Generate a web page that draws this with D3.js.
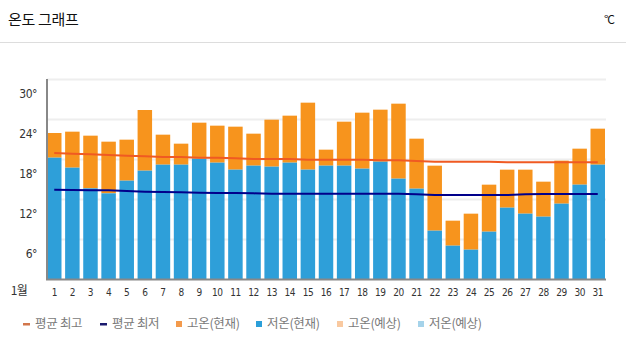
<!DOCTYPE html>
<html><head><meta charset="utf-8">
<script src="https://cdn.jsdelivr.net/npm/d3@7"></script>
<style>
body{margin:0;background:#fff;}
svg{display:block;}
text{font-family:"Noto Sans CJK KR","Noto Sans",sans-serif;}
</style></head>
<body><svg id="c" width="626" height="351"></svg>
<script>
const days = d3.range(1, 32).map(String);
const highNow = [21.9,22.1,21.5,20.6,20.9,25.35,21.65,20.3,23.45,23.0,22.85,21.8,23.9,24.5,26.45,19.4,23.6,24.95,25.4,26.3,21.05,17.0,8.75,9.8,14.15,16.4,16.4,14.6,17.75,19.55,22.55];
const lowNow = [18.2,16.7,13.6,12.85,14.75,16.25,17.15,17.15,18.05,17.45,16.4,17.0,16.85,17.45,16.4,17.0,17.0,16.55,17.6,15.05,13.55,7.25,5.0,4.4,7.1,10.7,9.8,9.35,11.3,14.15,17.15];
const avgHigh = [18.9,18.8,18.7,18.6,18.5,18.4,18.3,18.3,18.2,18.2,18.1,18.0,18.0,18.0,17.9,17.9,17.9,17.9,17.8,17.8,17.7,17.6,17.6,17.6,17.6,17.5,17.5,17.5,17.5,17.5,17.5];
const avgLow = [13.4,13.35,13.3,13.3,13.2,13.1,13.05,13.0,12.95,12.9,12.9,12.85,12.8,12.8,12.8,12.8,12.8,12.8,12.8,12.8,12.7,12.6,12.6,12.6,12.6,12.6,12.7,12.75,12.75,12.75,12.75];
const yTicks = [6, 12, 18, 24, 30];
const legendLabels = ["평균 최고","평균 최저","고온(현재)","저온(현재)","고온(예상)","저온(예상)"];
const colors = {high:"#F7941D", low:"#2E9FD9", avgHigh:"#F05A22", avgLow:"#00008B"};

const svg = d3.select("#c");
const x = d3.scaleBand().domain(days).range([47, 605]).paddingInner(0.2).paddingOuter(0).align(0);
const y = d3.scaleLinear().domain([0, 30]).range([279, 79]);

// title
svg.append("text").attr("x", 8).attr("y", 25).attr("font-size", 15).attr("fill", "#111").attr("letter-spacing", "-0.3").text("온도 그래프");
svg.append("text").attr("x", 614).attr("y", 24).attr("text-anchor", "end").attr("font-size", 12).attr("fill", "#111").attr("letter-spacing", "-1").text("°C");
svg.append("line").attr("x1", 0).attr("x2", 626).attr("y1", 42.5).attr("y2", 42.5).attr("stroke", "#ddd");

// gridlines
svg.append("g").selectAll("line").data(yTicks).join("line")
  .attr("x1", 47).attr("x2", 606).attr("y1", d => Math.round(y(d)) + 0.5).attr("y2", d => Math.round(y(d)) + 0.5)
  .attr("stroke", "#eeeeee").attr("stroke-width", 2);

// y labels
svg.append("g").selectAll("text").data(yTicks).join("text")
  .attr("x", 37).attr("y", d => y(d) + 15).attr("dy", "0.35em").attr("text-anchor", "end")
  .attr("font-size", 12).attr("fill", "#333").style("font-family", "'DejaVu Sans Condensed','DejaVu Sans',sans-serif")
  .attr("letter-spacing", "-0.5").text(d => d + "°");

// bars
const bars = svg.append("g");
bars.selectAll("rect.h").data(days).join("rect").attr("class", "h")
  .attr("x", d => x(d)).attr("width", x.bandwidth())
  .attr("y", (d, i) => y(highNow[i])).attr("height", (d, i) => y(lowNow[i]) - y(highNow[i]))
  .attr("fill", colors.high);
bars.selectAll("rect.l").data(days).join("rect").attr("class", "l")
  .attr("x", d => x(d)).attr("width", x.bandwidth())
  .attr("y", (d, i) => y(lowNow[i])).attr("height", (d, i) => y(0) - y(lowNow[i]))
  .attr("fill", colors.low);

// lines
const line = arr => d3.line().x((d, i) => x(days[i]) + x.bandwidth() / 2).y(d => y(d))(arr);
svg.append("path").attr("d", line(avgHigh)).attr("fill", "none").attr("stroke", colors.avgHigh).attr("stroke-width", 2);
svg.append("path").attr("d", line(avgLow)).attr("fill", "none").attr("stroke", colors.avgLow).attr("stroke-width", 2);

// axes lines
svg.append("line").attr("x1", 47).attr("x2", 47).attr("y1", 79).attr("y2", 280).attr("stroke", "#888").attr("stroke-width", 2);
svg.append("line").attr("x1", 46).attr("x2", 606).attr("y1", 279.5).attr("y2", 279.5).attr("stroke", "#888").attr("stroke-width", 2);

// x labels
svg.append("g").selectAll("text").data(days).join("text")
  .attr("x", d => x(d) + x.bandwidth() / 2).attr("y", 292).attr("dy", "0.35em").attr("text-anchor", "middle")
  .attr("font-size", 10).attr("fill", "#333").style("font-family", "'DejaVu Sans Condensed','DejaVu Sans',sans-serif")
  .attr("letter-spacing", "-0.5").text(d => d);
svg.append("text").attr("x", 19).attr("y", 291).attr("dy", "0.35em").attr("text-anchor", "middle")
  .attr("font-size", 12).attr("fill", "#333").attr("letter-spacing", "-0.5").text("1월");

// legend
const legX = [23, 100, 176, 256, 337, 418];
const legColors = ["#D2764B", "#1A1A6E", "#F39A4C", "#2B9FD9", "#F9C9A0", "#A5D3EA"];
const leg = svg.append("g").selectAll("g").data(legendLabels).join("g")
  .attr("transform", (d, i) => `translate(${legX[i]},324)`);
leg.each(function(d, i) {
  const g = d3.select(this);
  if (i < 2) g.append("rect").attr("x", 0).attr("y", -1).attr("width", 7).attr("height", 2.5).attr("fill", legColors[i]);
  else g.append("rect").attr("x", 0).attr("y", -3).attr("width", 6).attr("height", 6).attr("fill", legColors[i]);
  g.append("text").attr("x", i < 2 ? 12 : 11).attr("y", 0).attr("dy", "0.35em")
    .attr("font-size", 12.5).attr("fill", "#7a7a7a").attr("letter-spacing", "-0.3").text(d);
});
</script></body></html>
